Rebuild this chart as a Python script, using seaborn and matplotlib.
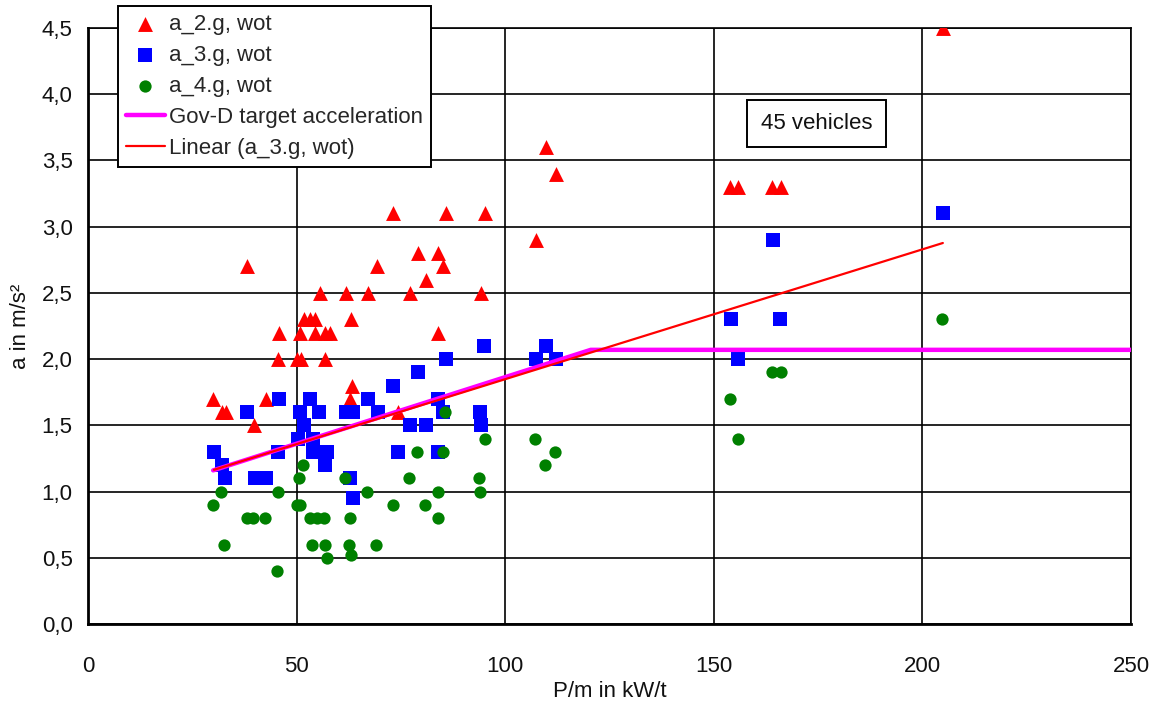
import numpy as np
import pandas as pd
import matplotlib
matplotlib.use("Agg")
import matplotlib.pyplot as plt
from matplotlib.ticker import MultipleLocator, FuncFormatter
import seaborn as sns

# ---------------- data ----------------
a2_x = [38, 55.5, 51.8, 53.2, 54.4, 45.8, 50.8, 54.3, 56.8, 58, 45.6, 50.2, 51, 56.8,
        30, 32, 33, 42.7, 39.8, 73.2, 85.9, 95.2, 79.2, 83.8, 69.2, 85.2, 81.1,
        61.9, 67.2, 77.2, 94.2, 63, 83.8, 63.2, 62.8, 74.4, 109.8, 112.2, 107.4,
        204.9, 153.8, 155.8, 164, 166.2]
a2_y = [2.7, 2.5, 2.3, 2.3, 2.3, 2.2, 2.2, 2.2, 2.2, 2.2, 2.0, 2.0, 2.0, 2.0,
        1.7, 1.6, 1.6, 1.7, 1.5, 3.1, 3.1, 3.1, 2.8, 2.8, 2.7, 2.7, 2.6,
        2.5, 2.5, 2.5, 2.5, 2.3, 2.2, 1.8, 1.7, 1.6, 3.6, 3.4, 2.9,
        4.5, 3.3, 3.3, 3.3, 3.3]

a3_x = [45.8, 53.1, 38, 50.8, 55.4, 51.8, 50.4, 53.9, 30.2, 45.6, 54, 57.4, 32, 56.8,
        32.9, 40, 41.3, 42.7, 95, 85.9, 79.2, 73.2, 67.2, 84, 61.8, 63.6, 69.4, 85.2,
        94, 77.2, 81.1, 94.2, 74.4, 84, 62.8, 63.4, 109.8, 107.4, 112.2,
        204.9, 164.3, 154.2, 165.9, 155.9]
a3_y = [1.7, 1.7, 1.6, 1.6, 1.6, 1.5, 1.4, 1.4, 1.3, 1.3, 1.3, 1.3, 1.2, 1.2,
        1.1, 1.1, 1.1, 1.1, 2.1, 2.0, 1.9, 1.8, 1.7, 1.7, 1.6, 1.6, 1.6, 1.6,
        1.6, 1.5, 1.5, 1.5, 1.3, 1.3, 1.1, 0.95, 2.1, 2.0, 2.0,
        3.1, 2.9, 2.3, 2.3, 2.0]

a4_x = [51.6, 50.6, 31.8, 45.5, 29.9, 50.0, 50.8, 38, 39.6, 42.4, 53.2, 54.8, 56.6,
        32.6, 53.8, 56.8, 57.2, 45.4, 85.6, 95.2, 78.8, 85, 61.6, 77, 93.8, 66.8,
        83.8, 94, 73, 80.8, 62.8, 83.8, 62.6, 69.1, 63, 107.2, 112, 109.6,
        204.6, 164, 166, 154, 155.7]
a4_y = [1.2, 1.1, 1.0, 1.0, 0.9, 0.9, 0.9, 0.8, 0.8, 0.8, 0.8, 0.8, 0.8,
        0.6, 0.6, 0.6, 0.5, 0.4, 1.6, 1.4, 1.3, 1.3, 1.1, 1.1, 1.1, 1.0,
        1.0, 1.0, 0.9, 0.9, 0.8, 0.8, 0.6, 0.6, 0.52, 1.4, 1.3, 1.2,
        2.3, 1.9, 1.9, 1.7, 1.4]

gov_x = [30, 120.5, 250]
gov_y = [1.16, 2.07, 2.07]

x_ticks = [0, 50, 100, 150, 200, 250]
y_ticks = [0.0, 0.5, 1.0, 1.5, 2.0, 2.5, 3.0, 3.5, 4.0, 4.5]

# ---------------- style ----------------
sns.set_style("white")
plt.rcParams["font.family"] = ["Liberation Sans", "DejaVu Sans"]
plt.rcParams["font.size"] = 16

fig = plt.figure(figsize=(11.61, 7.13), dpi=100)
ax = fig.add_axes([88 / 1161, 1 - 624 / 713, (1131 - 88) / 1161, (624 - 28) / 713])

df2 = pd.DataFrame({"x": a2_x, "y": a2_y})
df3 = pd.DataFrame({"x": a3_x, "y": a3_y})
df4 = pd.DataFrame({"x": a4_x, "y": a4_y})
dfg = pd.DataFrame({"x": gov_x, "y": gov_y})

sns.scatterplot(data=df2, x="x", y="y", ax=ax, marker="^", color="#FF0000",
                s=115, linewidth=0, label="a_2.g, wot", zorder=3)
sns.scatterplot(data=df3, x="x", y="y", ax=ax, marker="s", color="#0000FF",
                s=100, linewidth=0, label="a_3.g, wot", zorder=3)
sns.scatterplot(data=df4, x="x", y="y", ax=ax, marker="o", color="#008000",
                s=78, linewidth=0, label="a_4.g, wot", zorder=3)
sns.lineplot(data=dfg, x="x", y="y", ax=ax, color="#FF00FF", linewidth=3.2,
             label="Gov-D target acceleration", zorder=4)
sns.regplot(data=df3, x="x", y="y", ax=ax, scatter=False, ci=None, truncate=True,
            color="#FF0000", line_kws={"linewidth": 1.6, "zorder": 5},
            label="Linear (a_3.g, wot)")

# ---------------- axes ----------------
ax.set_xlim(0, 250)
ax.set_ylim(0, 4.5)
ax.set_xticks(x_ticks)
ax.set_yticks(y_ticks)
ax.xaxis.set_minor_locator(MultipleLocator(10))
ax.yaxis.set_minor_locator(MultipleLocator(0.1))
ax.yaxis.set_major_formatter(FuncFormatter(lambda v, p: f"{v:.1f}".replace(".", ",")))
ax.xaxis.set_major_formatter(FuncFormatter(lambda v, p: f"{v:.0f}"))
ax.tick_params(which="both", direction="inout", color="black", labelsize=16,
               labelcolor="#111111")
ax.tick_params(which="major", length=10, width=1.6)
ax.tick_params(which="minor", length=9, width=1.6)
ax.tick_params(axis="y", which="major", pad=6)
ax.tick_params(axis="x", which="major", pad=18)

ax.grid(True, which="major", color="black", linewidth=1.2)
ax.set_axisbelow(True)
for side in ["top", "right"]:
    ax.spines[side].set_color("black")
    ax.spines[side].set_linewidth(1.2)
for side in ["left", "bottom"]:
    ax.spines[side].set_color("black")
    ax.spines[side].set_linewidth(2.0)

ax.set_xlabel("P/m in kW/t", fontsize=16, labelpad=3, color="#111111")
ax.set_ylabel("a in m/s²", fontsize=16, labelpad=8, color="#111111")

ax.text(174.6, 3.78, "45 vehicles", ha="center", va="center", fontsize=16,
        color="#111111", zorder=6,
        bbox=dict(boxstyle="square,pad=0.6", fc="white", ec="black", lw=1.4))

leg = ax.legend(loc="upper left", bbox_to_anchor=(118 / 1161, 1 - 6 / 713),
                bbox_transform=fig.transFigure, frameon=True, fancybox=False,
                fontsize=16, handlelength=1.75, handletextpad=0.2,
                labelspacing=0.45, borderpad=0.35, borderaxespad=0)
leg.get_frame().set_edgecolor("black")
leg.get_frame().set_linewidth(1.4)
leg.get_frame().set_facecolor("white")
leg.get_frame().set_alpha(1)
leg.set_zorder(10)

fig.savefig("out.png", dpi=100)
